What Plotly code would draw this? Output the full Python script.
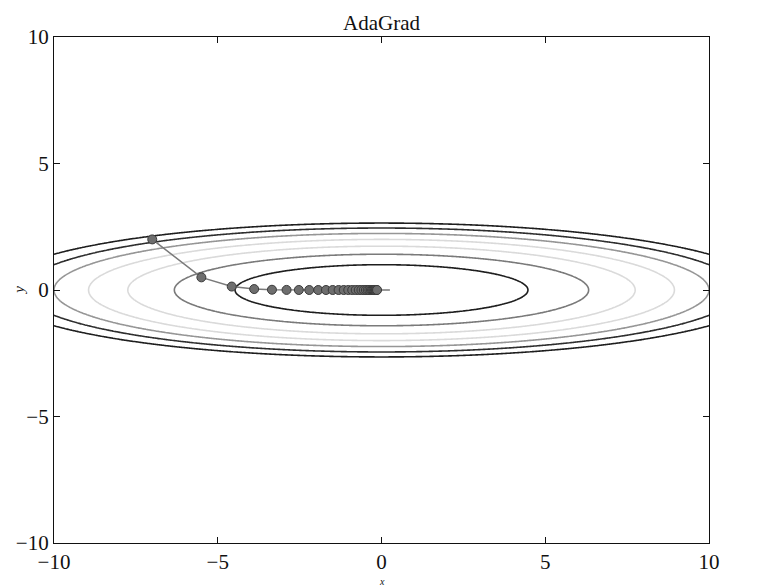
import numpy as np
import plotly.graph_objects as go

# ---- objective f(x, y) = x^2/20 + y^2 ----
coef_x = 1.0 / 20.0
coef_y = 1.0
contour_levels = [1, 2, 3, 4, 5, 6, 7]
level_colors = ["#1e1e1e", "#7a7a7a", "#dadada", "#dadada", "#969696", "#2e2e2e", "#1e1e1e"]

# ---- AdaGrad path ----
path_x = [-7.0, -5.5, -4.573, -3.888, -3.345, -2.899, -2.524, -2.206, -1.932, -1.695,
          -1.490, -1.310, -1.153, -1.015, -0.894, -0.788, -0.695, -0.613, -0.541, -0.477,
          -0.421, -0.371, -0.327, -0.289, -0.255, -0.225, -0.198, -0.175, -0.154, -0.136]
path_y = [2.0, 0.5, 0.136, 0.037, 0.010, 0.003, 0.001, 0.0, 0.0, 0.0,
          0.0, 0.0, 0.0, 0.0, 0.0, 0.0, 0.0, 0.0, 0.0, 0.0,
          0.0, 0.0, 0.0, 0.0, 0.0, 0.0, 0.0, 0.0, 0.0, 0.0]
minimum = [0.0, 0.0]

tick_vals = [-10, -5, 0, 5, 10]
tick_text = ["\u221210", "\u22125", "0", "5", "10"]

serif = "Liberation Serif"

# ---- Superficie ----
gx = np.linspace(-10, 10, 400)
gy = np.linspace(-10, 10, 400)
X, Y = np.meshgrid(gx, gy)
Z = coef_x * X ** 2 + coef_y * Y ** 2

n = len(contour_levels) - 1
cscale = [[i / n, c] for i, c in enumerate(level_colors)]

fig = go.Figure()

fig.add_trace(
    go.Contour(
        x=gx,
        y=gy,
        z=Z,
        contours=dict(start=contour_levels[0], end=contour_levels[-1], size=1, coloring="lines"),
        colorscale=cscale,
        zmin=contour_levels[0],
        zmax=contour_levels[-1],
        line=dict(width=1.6),
        showscale=False,
        hoverinfo="skip",
    )
)

# ---- minimum (mostly hidden behind the last markers) ----
fig.add_trace(
    go.Scatter(
        x=[minimum[0]],
        y=[minimum[1]],
        mode="markers",
        marker=dict(symbol="line-ew", size=12, line=dict(color="#555555", width=1.2)),
        showlegend=False,
    )
)

fig.add_trace(
    go.Scatter(
        x=path_x,
        y=path_y,
        mode="lines+markers",
        line=dict(color="#7a7a7a", width=1.5),
        marker=dict(size=9, color="#6e6e6e", line=dict(color="#3a3a3a", width=1)),
        showlegend=False,
    )
)

axis_common = dict(
    range=[-10, 10],
    tickvals=tick_vals,
    ticktext=tick_text,
    ticks="inside",
    ticklen=6,
    tickcolor="#111111",
    showline=True,
    linecolor="#111111",
    linewidth=1.2,
    mirror="ticks",
    showgrid=False,
    zeroline=False,
    automargin=False,
    tickfont=dict(family=serif, size=21, color="#111111"),
)

# page has an 8px body margin, so shift margins to land the plot area where the reference has it
fig.update_layout(
    width=761,
    height=587,
    margin=dict(l=46, r=60, t=29, b=52),
    plot_bgcolor="white",
    paper_bgcolor="white",
    xaxis=axis_common,
    yaxis=axis_common,
    title=dict(text="AdaGrad", x=0.5, xref="paper", y=0.975, yanchor="middle",
               font=dict(family=serif, size=21, color="#111111")),
    annotations=[
        dict(text="<i>x</i>", xref="paper", yref="paper", x=0.5, y=-0.064,
             showarrow=False, yanchor="top", borderpad=0,
             font=dict(family=serif, size=10, color="#111111")),
        dict(text="<i>y</i>", xref="paper", yref="paper", x=-0.069, y=0.5,
             showarrow=False, textangle=-90, xanchor="left",
             font=dict(family=serif, size=15, color="#111111")),
    ],
)

fig.write_html("out.html")
